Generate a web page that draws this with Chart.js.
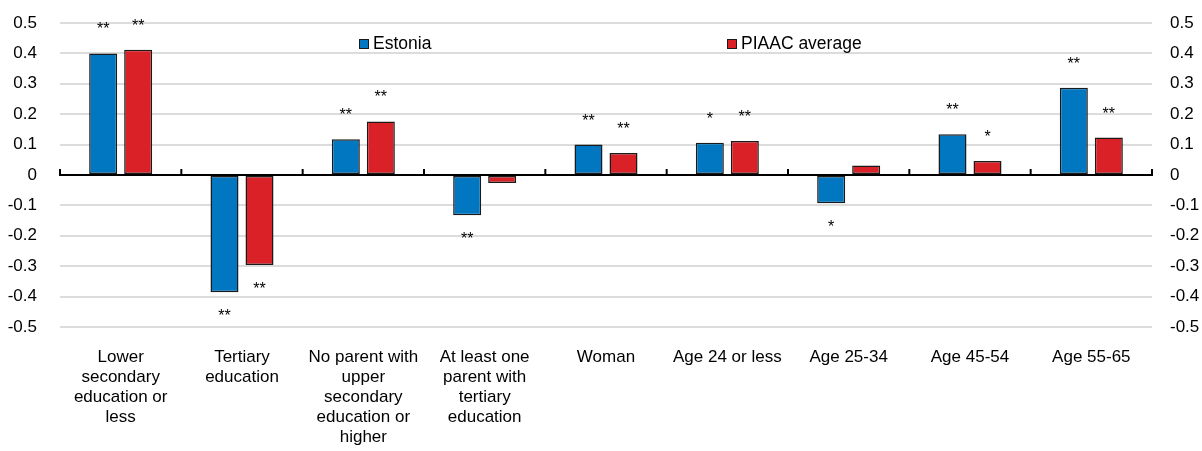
<!DOCTYPE html>
<html>
<head>
<meta charset="utf-8">
<script src="https://cdn.jsdelivr.net/npm/chart.js@4/dist/chart.umd.min.js"></script>
<style>
  html, body { margin: 0; padding: 0; background: #fff; }
  #wrap { width: 1202px; height: 451px; position: relative; }
</style>
</head>
<body>
<div id="wrap"><canvas id="c" width="1202" height="451"></canvas></div>
<script>
// Categories (multi-line labels)
const categories = [
  ['Lower', 'secondary', 'education or', 'less'],
  ['Tertiary', 'education'],
  ['No parent with', 'upper', 'secondary', 'education or', 'higher'],
  ['At least one', 'parent with', 'tertiary', 'education'],
  ['Woman'],
  ['Age 24 or less'],
  ['Age 25-34'],
  ['Age 45-54'],
  ['Age 55-65']
];

// Series values
const estonia = [0.400, -0.386, 0.118, -0.132, 0.100, 0.106, -0.093, 0.134, 0.287];
const piaac   = [0.412, -0.296, 0.176, -0.026, 0.072, 0.112, 0.031, 0.046, 0.123];

// Significance markers
const estoniaSig = ['**', '**', '**', '**', '**', '*', '*', '**', '**'];
const piaacSig   = ['**', '**', '**', '', '**', '**', '', '*', '**'];

// Axis ticks
const yTicks = [-0.5, -0.4, -0.3, -0.2, -0.1, 0, 0.1, 0.2, 0.3, 0.4, 0.5];

const seriesNames = ['Estonia', 'PIAAC average'];
const seriesColors = ['#0077C0', '#DA2128'];
const FONT = '"Liberation Sans", Arial, sans-serif';

function fmtTick(v) {
  return Math.abs(v) < 1e-9 ? '0' : v.toFixed(1);
}

// Zero line, category separators, significance stars and legend
const decorations = {
  id: 'decorations',
  afterDatasetsDraw(chart) {
    const ctx = chart.ctx;
    const xs = chart.scales.x;
    const ys = chart.scales.y;
    const area = chart.chartArea;
    const y0 = ys.getPixelForValue(0);

    ctx.save();
    // zero line
    ctx.strokeStyle = '#000';
    ctx.lineWidth = 2;
    ctx.beginPath();
    ctx.moveTo(area.left, y0);
    ctx.lineTo(area.right, y0);
    ctx.stroke();
    // category boundary ticks
    const n = categories.length;
    const step = (xs.getPixelForValue(n - 1) - xs.getPixelForValue(0)) / (n - 1);
    for (let i = 0; i <= n; i++) {
      const x = xs.getPixelForValue(0) - step / 2 + i * step;
      ctx.beginPath();
      ctx.moveTo(x, y0 + 1);
      ctx.lineTo(x, y0 - 6);
      ctx.stroke();
    }

    // significance stars
    const sigs = [estoniaSig, piaacSig];
    ctx.fillStyle = '#000';
    ctx.font = '16px ' + FONT;
    ctx.textAlign = 'center';
    ctx.textBaseline = 'alphabetic';
    chart.data.datasets.forEach((ds, di) => {
      const meta = chart.getDatasetMeta(di);
      meta.data.forEach((bar, i) => {
        const s = sigs[di][i];
        if (!s) return;
        const v = ds.data[i];
        const cy = v >= 0 ? bar.y - 28.5 : bar.y + 19.5;
        ctx.fillText(s, bar.x, cy + 9.5);
      });
    });

    // legend
    const legendPos = [[359, 43.5], [727, 43.5]];
    ctx.font = '17.5px ' + FONT;
    ctx.textAlign = 'left';
    ctx.textBaseline = 'middle';
    chart.data.datasets.forEach((ds, di) => {
      const [lx, ly] = legendPos[di];
      ctx.fillStyle = ds.backgroundColor;
      ctx.fillRect(lx, ly - 4.5, 10, 10);
      ctx.strokeStyle = '#1a1a1a';
      ctx.lineWidth = 1;
      ctx.strokeRect(lx + 0.5, ly - 4, 9, 9);
      ctx.fillStyle = '#000';
      ctx.fillText(ds.label, lx + 14, ly + 1);
    });
    ctx.restore();
  }
};

const yScaleBase = {
  min: -0.5,
  max: 0.5,
  afterBuildTicks(scale) {
    scale.ticks = yTicks.map(v => ({ value: v }));
  },
  border: { display: false },
  ticks: {
    color: '#000',
    font: { family: FONT, size: 17 },
    padding: 0,
    callback: (v) => fmtTick(v)
  }
};

new Chart(document.getElementById('c'), {
  type: 'bar',
  data: {
    labels: categories,
    datasets: [
      {
        label: seriesNames[0],
        data: estonia,
        backgroundColor: seriesColors[0],
        borderColor: '#1a1a1a',
        borderWidth: 1.5,
        borderSkipped: false
      },
      {
        label: seriesNames[1],
        data: piaac,
        backgroundColor: seriesColors[1],
        borderColor: '#1a1a1a',
        borderWidth: 1.5,
        borderSkipped: false
      }
    ]
  },
  options: {
    responsive: false,
    devicePixelRatio: 1,
    animation: false,
    categoryPercentage: 0.577,
    barPercentage: 0.8,
    layout: { padding: { top: 23, left: 0, right: 0, bottom: 0 } },
    plugins: {
      legend: { display: false },
      tooltip: { enabled: false }
    },
    scales: {
      x: {
        grid: { display: false, drawTicks: false },
        border: { display: false },
        ticks: {
          color: '#000',
          font: { family: FONT, size: 17, lineHeight: 20 / 17 },
          padding: 20,
          maxRotation: 0,
          autoSkip: false
        },
        afterFit(scale) { scale.height = 124; }
      },
      y: Object.assign({}, yScaleBase, {
        position: 'left',
        grid: {
          color: (c) => (c.tick && Math.abs(c.tick.value) < 1e-9) ? 'rgba(0,0,0,0)' : '#dcdcdc',
          lineWidth: 2,
          drawTicks: true,
          tickLength: 23,
          tickColor: 'rgba(0,0,0,0)'
        },
        afterFit(scale) { scale.width = 60; }
      }),
      y2: Object.assign({}, yScaleBase, {
        position: 'right',
        grid: {
          display: true,
          drawOnChartArea: false,
          drawTicks: true,
          tickLength: 18,
          color: 'rgba(0,0,0,0)',
          tickColor: 'rgba(0,0,0,0)'
        },
        afterFit(scale) { scale.width = 50; }
      })
    }
  },
  plugins: [decorations]
});
</script>
</body>
</html>
